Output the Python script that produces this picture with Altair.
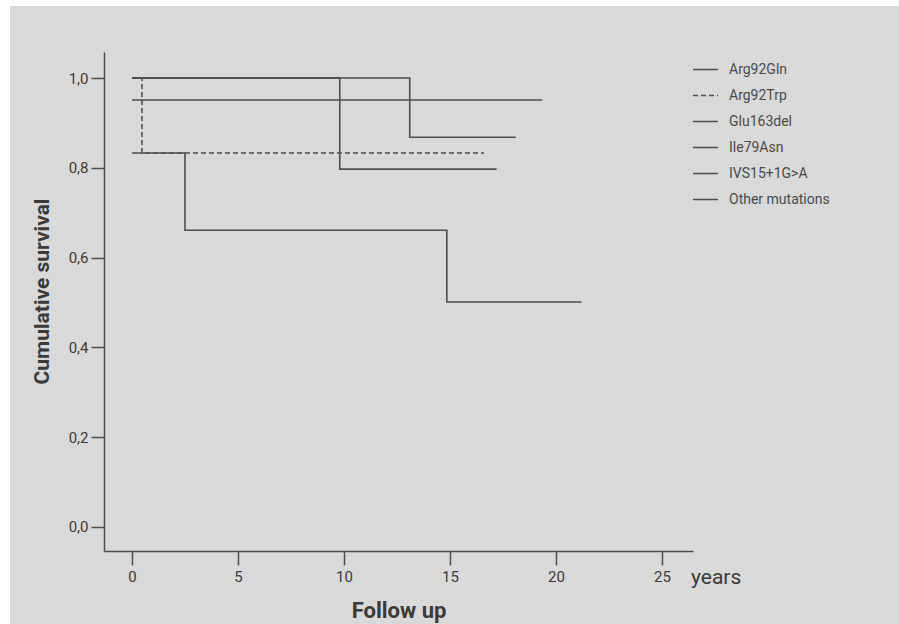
import altair as alt
import pandas as pd

# Kaplan-Meier step curves (time in years, cumulative survival)
series = ["Arg92Gln", "Arg92Trp", "Glu163del", "Ile79Asn", "IVS15+1G>A", "Other mutations"]

arg92gln_t = [0, 9.8, 17.2]
arg92gln_s = [1.0, 0.797, 0.797]

arg92trp_t = [0, 0.47, 16.6]
arg92trp_s = [1.0, 0.833, 0.833]

glu163del_t = [0, 13.1, 18.1]
glu163del_s = [1.0, 0.868, 0.868]

ile79asn_t = [0, 19.35]
ile79asn_s = [0.951, 0.951]

ivs15_t = [0, 2.5, 14.85, 21.2]
ivs15_s = [0.833, 0.661, 0.501, 0.501]

other_t = [0, 9.8]
other_s = [1.0, 1.0]

x_ticks = [0, 5, 10, 15, 20, 25]
y_ticks = [0.0, 0.2, 0.4, 0.6, 0.8, 1.0]

dash_patterns = [[1, 0], [5, 3], [1, 0], [1, 0], [1, 0], [1, 0]]

rows = []
for name, ts, ss in [
    ("Arg92Gln", arg92gln_t, arg92gln_s),
    ("Arg92Trp", arg92trp_t, arg92trp_s),
    ("Glu163del", glu163del_t, glu163del_s),
    ("Ile79Asn", ile79asn_t, ile79asn_s),
    ("IVS15+1G>A", ivs15_t, ivs15_s),
    ("Other mutations", other_t, other_s),
]:
    for i, (t, s) in enumerate(zip(ts, ss)):
        rows.append({"series": name, "time": t, "surv": s, "idx": i})
df = pd.DataFrame(rows)

FONT = "Roboto"
LINE = "#4d4d4d"
TXT = "#3a3a3a"

bg = alt.Chart(pd.DataFrame({"a": [0]})).mark_rect(color="#d9d9d9").encode(
    x=alt.value(-94), x2=alt.value(795), y=alt.value(-46), y2=alt.value(572)
)

lines = alt.Chart(df).mark_line(interpolate="step-after", color=LINE, strokeWidth=1.6).encode(
    x=alt.X(
        "time:Q",
        scale=alt.Scale(domain=[-1.32, 26.46], nice=False, zero=False),
        axis=alt.Axis(
            values=x_ticks, title="Follow up", grid=False, zindex=1,
            tickSize=14, tickColor=LINE, tickWidth=1.5,
            domainColor=LINE, domainWidth=1.5,
            labelFontSize=15, labelColor=TXT, labelPadding=4, labelFont=FONT,
            titleFontSize=22, titleFontWeight="bold", titleColor=TXT, titleFont=FONT,
            titleBaseline="middle", titleY=59,
        ),
    ),
    y=alt.Y(
        "surv:Q",
        scale=alt.Scale(domain=[-0.0535, 1.058], nice=False, zero=False),
        axis=alt.Axis(
            values=y_ticks, title="Cumulative survival", grid=False, zindex=1,
            labelExpr="replace(format(datum.value, '.1f'), '.', ',')",
            tickSize=13, tickColor=LINE, tickWidth=1.5,
            domainColor=LINE, domainWidth=1.5,
            labelFontSize=15, labelColor=TXT, labelPadding=3, labelFont=FONT,
            titleFontSize=21, titleFontWeight="bold", titleColor=TXT, titleFont=FONT,
            titleAngle=270, titleAlign="center", titleBaseline="middle",
            titleX=-62, titleY=239,
        ),
    ),
    strokeDash=alt.StrokeDash(
        "series:N",
        sort=series,
        scale=alt.Scale(domain=series, range=dash_patterns),
        legend=alt.Legend(
            title=None, orient="none", legendX=588, legendY=4,
            symbolType="stroke", symbolSize=625, symbolStrokeWidth=1.5,
            symbolStrokeColor=LINE,
            labelFontSize=14, labelColor="#4a4a4a", labelFont=FONT,
            labelOffset=10, rowPadding=5,
        ),
    ),
    order="idx:Q",
)

years = alt.Chart(pd.DataFrame({"t": ["years"]})).mark_text(
    align="left", baseline="middle", fontSize=21, font=FONT, color=TXT
).encode(text="t:N", x=alt.value(587), y=alt.value(526))

chart = alt.layer(bg, lines, years).properties(
    width=589, height=499,
    padding={"left": 104, "top": 52, "right": 206, "bottom": 73},
    autosize=alt.AutoSizeParams(type="none"),
    background="white",
).configure_view(stroke=None)

chart.save("out.html", embed_options={"renderer": "svg", "actions": False})
